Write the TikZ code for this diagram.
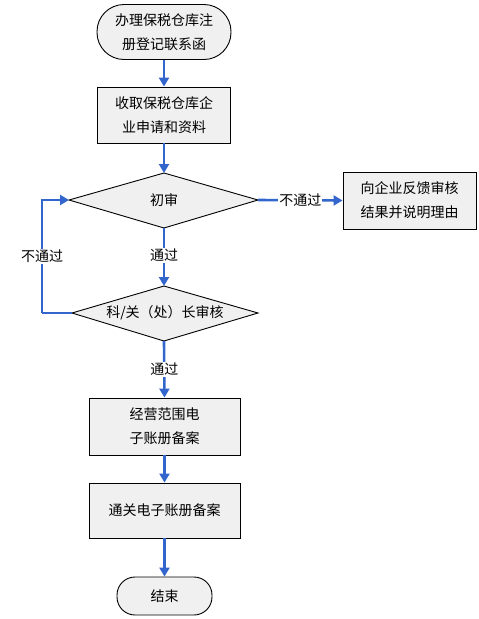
\documentclass[tikz,border=0pt]{standalone}
\usepackage{fontspec}
\setmainfont{Noto Sans CJK SC}
\usetikzlibrary{arrows.meta}
\definecolor{flowblue}{RGB}{51,102,204}
\definecolor{boxfill}{RGB}{240,240,240}
\tikzset{
  procbox/.style={draw=black, line width=0.9pt, fill=boxfill, align=center, inner sep=0pt,
    font=\fontsize{14}{24}\selectfont},
  termbox/.style={procbox, rounded corners=14pt},
  flow/.style={draw=flowblue, line width=2.6pt, -{Triangle[width=10pt,length=9pt]}},
  flowline/.style={draw=flowblue, line width=2.6pt},
  lbl/.style={fill=white, inner sep=1pt, font=\fontsize{14}{16}\selectfont},
  dtext/.style={font=\fontsize{14}{16}\selectfont, inner sep=0pt},
  diam/.style={draw=black, line width=0.9pt, fill=boxfill}
}
\begin{document}
\begin{tikzpicture}[x=1pt,y=-1pt]
\useasboundingbox (0,0) rectangle (479,619);
% nodes
\node[termbox, minimum width=134pt, minimum height=55pt, rounded corners=27pt] (start) at (164,32) {办理保税仓库注\\册登记联系函};
\node[procbox, minimum width=133pt, minimum height=56pt] (recv) at (164,115) {收取保税仓库企\\业申请和资料};
% diamond 1
\coordinate (d1t) at (164,173);
\coordinate (d1b) at (164,228);
\coordinate (d1l) at (69,200);
\coordinate (d1r) at (258,200);
\draw[diam] (d1t) -- (d1r) -- (d1b) -- (d1l) -- cycle;
\node[dtext] (d1) at (164,200) {初审};
\node[procbox, minimum width=133pt, minimum height=57pt] (fb) at (409.5,200.5) {向企业反馈审核\\结果并说明理由};
% diamond 2
\coordinate (d2t) at (164,286);
\coordinate (d2b) at (164,341);
\coordinate (d2l) at (72,313);
\coordinate (d2r) at (258,313);
\draw[diam] (d2t) -- (d2r) -- (d2b) -- (d2l) -- cycle;
\node[dtext] (d2) at (165,313) {科/关（处）长审核};
\node[procbox, minimum width=151pt, minimum height=57pt] (biz) at (164.5,426.5) {经营范围电\\子账册备案};
\node[procbox, minimum width=151pt, minimum height=55pt] (cust) at (164.5,510.5) {通关电子账册备案};
\node[procbox, minimum width=95pt, minimum height=38pt, rounded corners=18pt] (end) at (164.5,596) {结束};
\coordinate (lp1) at (42,313);
\coordinate (lp2) at (42,200);
% connectors
\draw[flow] (start.south) -- (recv.north);
\draw[flow] (recv.south) -- (d1t);
\draw[flow] (d1r) -- node[lbl] {不通过} (fb.west);
\draw[flow] (d1b) -- node[lbl, pos=0.47] {通过} (d2t);
\draw[flowline] (d2l) -- (lp1);
\draw[flow] (lp1) -- node[lbl, pos=0.5] {不通过} (lp2) -- (d1l);
\draw[flow] (d2b) -- node[lbl, pos=0.5] {通过} (biz.north);
\draw[flow] (biz.south) -- (cust.north);
\draw[flow] (cust.south) -- (end.north);
\end{tikzpicture}
\end{document}
